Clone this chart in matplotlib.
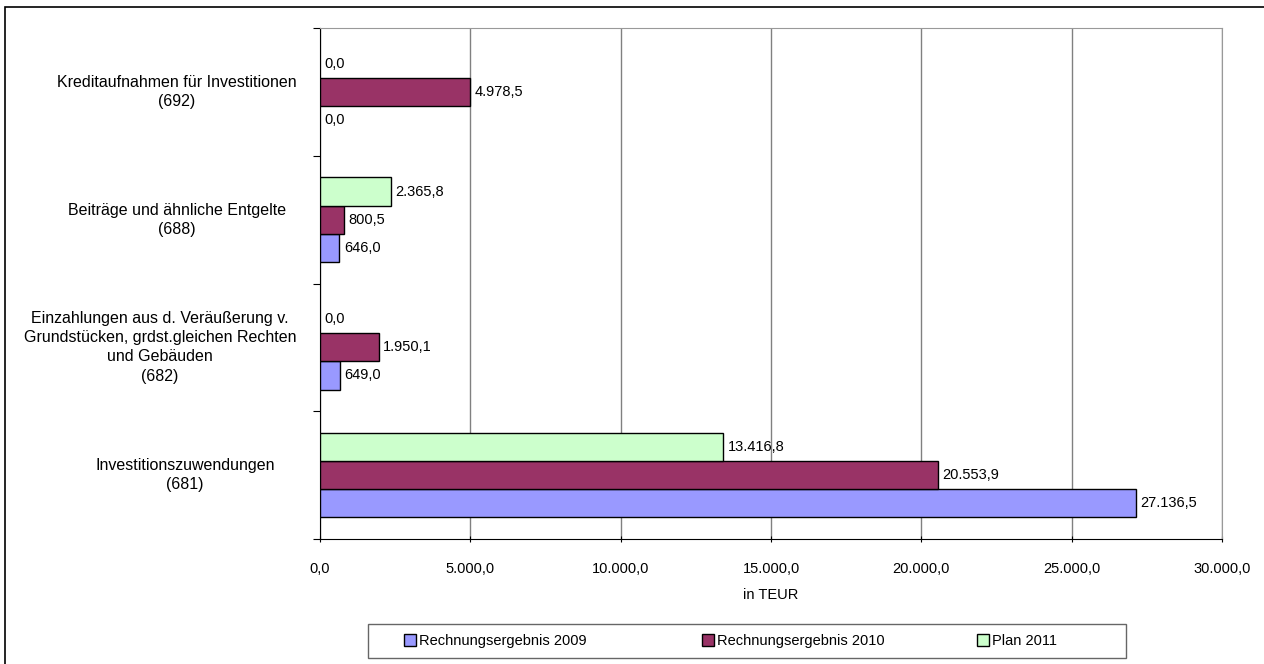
import numpy as np
import matplotlib.pyplot as plt
from matplotlib.patches import Rectangle

plt.rcParams['font.family'] = ['Liberation Sans', 'DejaVu Sans']
plt.rcParams['font.size'] = 10

# Daten
kategorien = [
    'Investitionszuwendungen\n(681)',
    'Einzahlungen aus d. Veräußerung v.\nGrundstücken, grdst.gleichen Rechten\nund Gebäuden\n(682)',
    'Beiträge und ähnliche Entgelte\n(688)',
    'Kreditaufnahmen für Investitionen\n(692)',
]
serien = ['Rechnungsergebnis 2009', 'Rechnungsergebnis 2010', 'Plan 2011']
werte_2009 = [27136.5, 649.0, 646.0, 0.0]
werte_2010 = [20553.9, 1950.1, 800.5, 4978.5]
werte_2011 = [13416.8, 0.0, 2365.8, 0.0]
farben = ['#9999FF', '#993366', '#CCFFCC']
x_ticks = [0, 5000, 10000, 15000, 20000, 25000, 30000]

# Mitte der Beschriftungen (Pixel)
label_mitte = [185, 160, 177, 177]


def de_format(v):
    s = f'{v:,.1f}'
    return s.replace(',', 'X').replace('.', ',').replace('X', '.')


fig = plt.figure(figsize=(12.64, 6.64), dpi=100)
ax = fig.add_axes([320/1264, 1-539/664, (1222-320)/1264, (539-28)/664])

y = np.arange(len(kategorien))
h = 0.22
offsets = [-h, 0, h]
for werte, farbe, off, name in zip([werte_2009, werte_2010, werte_2011], farben, offsets, serien):
    for i, v in enumerate(werte):
        if v > 0:
            ax.barh(y[i] + off, v, height=h, color=farbe, edgecolor='black', linewidth=1,
                    label=name if i == 0 else None, zorder=3)
        ax.text(v + 150, y[i] + off, de_format(v), va='center', ha='left', fontsize=10.5, zorder=4)

ax.set_xlim(0, 30000)
ax.set_ylim(-0.5, len(kategorien) - 0.5)
ax.set_xticks(x_ticks)
ax.set_xticklabels([de_format(t) for t in x_ticks], fontsize=10.5)
ax.set_yticks(np.arange(len(kategorien) + 1) - 0.5)
ax.set_yticklabels([])
ax.tick_params(axis='y', length=5, direction='out')
ax.tick_params(axis='x', length=5, direction='inout', pad=14)
ax.set_xlabel('in TEUR', labelpad=9, fontsize=10.5)
ax.xaxis.grid(True, color='#808080', linewidth=1, zorder=0)
for s in ['top', 'right']:
    ax.spines[s].set_color('#999999')
for s in ['left', 'bottom']:
    ax.spines[s].set_color('black')

for yi, txt, cx in zip(y, kategorien, label_mitte):
    ax.annotate(txt, xy=(0, yi), xycoords=('axes fraction', 'data'),
                xytext=(-(320 - cx) * 0.72, 0), textcoords='offset points',
                ha='center', va='center', multialignment='center',
                fontsize=11.5, linespacing=1.35, annotation_clip=False)

# Legende
handles, labels = ax.get_legend_handles_labels()
for hd, lb, xpos in zip(handles, labels, [404, 702, 977]):
    fig.legend([hd], [lb], loc='center left', bbox_to_anchor=(xpos/1264, 1-641/664),
               frameon=False, handlelength=0.8, handleheight=0.8, borderpad=0,
               handletextpad=0.2, borderaxespad=0, fontsize=10.5)
fig.patches.append(Rectangle((368/1264, 1-658/664), (1126-368)/1264, 34/664,
                             transform=fig.transFigure, fill=False,
                             edgecolor='#666666', linewidth=1))

# Rahmen
fig.patches.append(Rectangle((5/1264, -0.1), 1.2, 1-7/664 + 0.1, transform=fig.transFigure,
                             fill=False, edgecolor='black', linewidth=1.2))

fig.savefig('out.png', dpi=100)
